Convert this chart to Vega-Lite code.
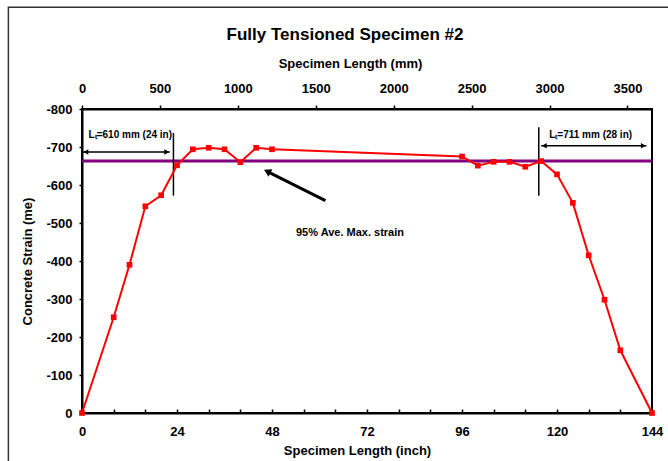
{
  "$schema": "https://vega.github.io/schema/vega-lite/v6.json",
  "width": 570,
  "height": 304,
  "autosize": {"type": "none"},
  "padding": {"left": 82, "top": 109, "right": 16, "bottom": 48},
  "background": "white",
  "title": {"text": "Fully Tensioned Specimen #2", "font": "Liberation Sans", "fontSize": 17, "fontWeight": "bold", "color": "black", "anchor": "middle", "dx": -22, "offset": -38},
  "datasets": {
    "strain": [
      {"inch": 0, "strain": 0},
      {"inch": 8, "strain": -252},
      {"inch": 12, "strain": -390},
      {"inch": 16, "strain": -544},
      {"inch": 20, "strain": -573},
      {"inch": 24, "strain": -652},
      {"inch": 28, "strain": -694},
      {"inch": 32, "strain": -698},
      {"inch": 36, "strain": -694},
      {"inch": 40, "strain": -660},
      {"inch": 44, "strain": -698},
      {"inch": 48, "strain": -694},
      {"inch": 96, "strain": -675},
      {"inch": 100, "strain": -651},
      {"inch": 104, "strain": -661},
      {"inch": 108, "strain": -661},
      {"inch": 112, "strain": -648},
      {"inch": 116, "strain": -663},
      {"inch": 120, "strain": -628},
      {"inch": 124, "strain": -553},
      {"inch": 128, "strain": -415},
      {"inch": 132, "strain": -298},
      {"inch": 136, "strain": -165},
      {"inch": 144, "strain": 0}
    ],
    "frame": [{"inch": -18.6, "inch2": 200, "strain": -1068, "strain2": 400}],
    "avg": [{"strain": -663}],
    "vlines": [
      {"inch": 23.1, "strain": -737, "strain2": -572},
      {"inch": 115.4, "strain": -752, "strain2": -572}
    ],
    "harrows": [
      {"inch": 0.2, "inch2": 22.2, "strain": -687},
      {"inch": 116, "inch2": 142.6, "strain": -703}
    ],
    "heads": [
      {"inch": 1.0, "strain": -687, "end": "start"},
      {"inch": 21.4, "strain": -687, "end": "end"},
      {"inch": 116.8, "strain": -703, "end": "start"},
      {"inch": 141.8, "strain": -703, "end": "end"}
    ],
    "pointer": [{"inch": 61.5, "inch2": 47.5, "strain": -559, "strain2": -632}],
    "pointerhead": [{"inch": 46.8, "strain": -636}],
    "notes": [
      {"inch": 67.7, "strain": -475, "label": "95% Ave. Max. strain"}
    ],
    "lt": [
      {"inch": 12.2, "strain": -732, "label": "Lₜ=610 mm (24 in)"},
      {"inch": 128.5, "strain": -732, "label": "Lₜ=711 mm (28 in)"}
    ],
    "mmaxis": [{"inch": 0}, {"inch": 144}]
  },
  "layer": [
    {
      "data": {"name": "frame"},
      "mark": {"type": "rect", "fill": null, "fillOpacity": 0, "stroke": "#333333", "strokeWidth": 1.5},
      "encoding": {
        "x": {"field": "inch", "type": "quantitative", "axis": null},
        "x2": {"field": "inch2"},
        "y": {"field": "strain", "type": "quantitative", "axis": null},
        "y2": {"field": "strain2"}
      }
    },
    {
      "data": {"name": "avg"},
      "mark": {"type": "rule", "color": "#800080", "strokeWidth": 3},
      "encoding": {"y": {"field": "strain", "type": "quantitative", "axis": null}}
    },
    {
      "data": {"name": "vlines"},
      "mark": {"type": "rule", "color": "black", "strokeWidth": 1.5},
      "encoding": {
        "x": {"field": "inch", "type": "quantitative", "axis": null},
        "y": {"field": "strain", "type": "quantitative", "axis": null},
        "y2": {"field": "strain2"}
      }
    },
    {
      "data": {"name": "harrows"},
      "mark": {"type": "rule", "color": "black", "strokeWidth": 1.5},
      "encoding": {
        "x": {"field": "inch", "type": "quantitative", "axis": null},
        "x2": {"field": "inch2"},
        "y": {"field": "strain", "type": "quantitative", "axis": null}
      }
    },
    {
      "data": {"name": "heads"},
      "mark": {"type": "point", "filled": true, "color": "black", "opacity": 1, "size": 30},
      "encoding": {
        "x": {"field": "inch", "type": "quantitative", "axis": null},
        "y": {"field": "strain", "type": "quantitative", "axis": null},
        "shape": {"field": "end", "type": "nominal", "scale": {"domain": ["start", "end"], "range": ["triangle-left", "triangle-right"]}, "legend": null}
      }
    },
    {
      "data": {"name": "pointer"},
      "mark": {"type": "rule", "color": "black", "strokeWidth": 3},
      "encoding": {
        "x": {"field": "inch", "type": "quantitative", "axis": null},
        "x2": {"field": "inch2"},
        "y": {"field": "strain", "type": "quantitative", "axis": null},
        "y2": {"field": "strain2"}
      }
    },
    {
      "data": {"name": "pointerhead"},
      "mark": {"type": "point", "shape": "triangle-up", "filled": true, "color": "black", "opacity": 1, "size": 70, "angle": 296.8},
      "encoding": {
        "x": {"field": "inch", "type": "quantitative", "axis": null},
        "y": {"field": "strain", "type": "quantitative", "axis": null}
      }
    },
    {
      "data": {"name": "notes"},
      "mark": {"type": "text", "font": "Liberation Sans", "fontWeight": "bold", "fontSize": 11, "color": "black"},
      "encoding": {
        "x": {"field": "inch", "type": "quantitative", "axis": null},
        "y": {"field": "strain", "type": "quantitative", "axis": null},
        "text": {"field": "label"}
      }
    },
    {
      "data": {"name": "lt"},
      "mark": {"type": "text", "font": "Liberation Sans", "fontWeight": "bold", "fontSize": 10, "color": "black"},
      "encoding": {
        "x": {"field": "inch", "type": "quantitative", "axis": null},
        "y": {"field": "strain", "type": "quantitative", "axis": null},
        "text": {"field": "label"}
      }
    },
    {
      "data": {"name": "mmaxis"},
      "mark": {"type": "point", "opacity": 0},
      "encoding": {
        "x": {"field": "inch", "type": "quantitative",
          "axis": {"orient": "top", "title": "Specimen Length (mm)", "values": [0, 19.685, 39.37, 59.055, 78.74, 98.425, 118.11, 137.795], "labelExpr": "'' + round(datum.value * 25.4)", "labelOverlap": false, "labelFlush": false, "tickSize": 4, "labelPadding": 10, "titlePadding": 12, "titleX": 268}}
      }
    },
    {
      "data": {"name": "strain"},
      "mark": {"type": "line", "color": "#ff0000", "strokeWidth": 2, "point": {"shape": "square", "size": 32, "filled": true, "color": "#ff0000", "opacity": 1}},
      "encoding": {
        "x": {"field": "inch", "type": "quantitative", "scale": {"domain": [0, 144], "nice": false, "zero": false},
          "axis": {"orient": "bottom", "title": "Specimen Length (inch)", "values": [0, 8, 16, 24, 32, 40, 48, 56, 64, 72, 80, 88, 96, 104, 112, 120, 128, 136, 144], "labelExpr": "datum.value % 24 == 0 ? '' + datum.value : ''", "labelOverlap": false, "labelFlush": false, "tickSize": -4, "labelPadding": 16, "titlePadding": 6, "titleX": 275}},
        "y": {"field": "strain", "type": "quantitative", "scale": {"domain": [-800, 0], "reverse": true, "nice": false, "zero": false},
          "axis": {"orient": "left", "title": "Concrete Strain (me)", "values": [-800, -700, -600, -500, -400, -300, -200, -100, 0], "labelExpr": "'' + datum.value", "labelOverlap": false, "labelFlush": false, "tickSize": 3, "labelPadding": 7, "titlePadding": 11}}
      }
    }
  ],
  "resolve": {"axis": {"x": "independent", "y": "independent"}},
  "config": {
    "view": {"stroke": "black", "strokeWidth": 2},
    "axis": {"grid": false, "domainColor": "black", "domainWidth": 2, "tickColor": "black", "tickWidth": 1.5, "labelFont": "Liberation Sans", "labelFontWeight": "bold", "labelFontSize": 13, "labelColor": "black", "titleFont": "Liberation Sans", "titleFontWeight": "bold", "titleFontSize": 13, "titleColor": "black", "labelOverlap": false, "labelFlush": false}
  }
}
